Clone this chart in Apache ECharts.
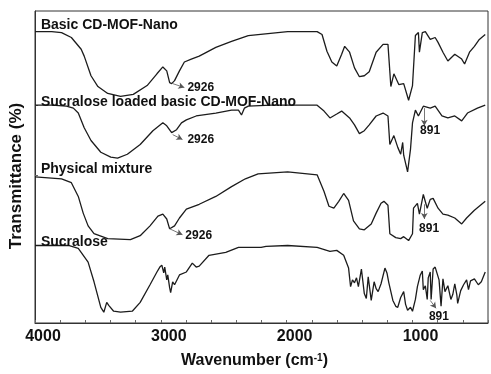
<!DOCTYPE html>
<html>
<head>
<meta charset="utf-8">
<script src="https://cdn.jsdelivr.net/npm/echarts@6/dist/echarts.min.js"></script>
<style>
html,body{margin:0;padding:0;background:#fff;}
#c{width:491px;height:374px;}
</style>
</head>
<body>
<div id="c"></div>
<script>
// Wavenumbers (cm-1) and relative transmittance (arbitrary, offset-stacked)
var wnBasic = [4000,3867,3789,3711,3633,3609,3555,3500,3422,3320,3219,3109,3031,2984,2953,2930,2914,2891,2852,2813,2758,2695,2563,2438,2305,2227,1992,1758,1719,1680,1641,1602,1563,1539,1500,1461,1422,1383,1344,1289,1234,1195,1172,1148,1109,1094,1070,1031,1000,977,953,945,922,898,859,820,797,758,719,664,609,586,547,508,469,422];
var tBasic  = [297,297,296,291,279,272,252,241,234,231,233,242,254,261,257,245,244,247,257,266,269,272,281,287,293,294,297,297,294,277,266,262,274,282,276,260,251,252,256,276,284,284,241,254,243,242,244,227,242,293,296,276,296,297,289,291,286,276,267,274,269,264,276,282,289,294];

var wnLoaded = [4000,3867,3750,3695,3656,3609,3555,3477,3398,3344,3266,3164,3063,2984,2953,2914,2875,2836,2797,2719,2563,2438,2383,2359,2336,2305,2125,1758,1703,1656,1602,1563,1500,1461,1422,1383,1344,1289,1234,1195,1180,1148,1117,1094,1078,1070,1039,1016,1000,977,953,914,859,820,766,719,664,609,563,484,422];
var tLoaded  = [222,222,221,219,214,199,186,174,169,168,172,182,196,204,201,194,197,204,207,211,214,217,217,212,219,221,222,222,216,209,213,216,209,202,193,196,202,211,214,211,182,191,179,172,184,171,154,177,204,217,211,221,219,221,211,209,211,206,214,219,222];

var wnMix = [4000,3789,3711,3656,3617,3578,3531,3422,3242,3164,3086,3023,2984,2953,2930,2891,2852,2797,2695,2563,2438,2328,2227,1992,1758,1703,1664,1625,1586,1547,1508,1469,1422,1383,1328,1289,1250,1227,1195,1180,1133,1094,1070,1031,1000,992,961,945,914,883,859,836,797,758,719,664,609,570,508,422];
var tMix  = [149,147,143,129,112,99,91,86,85,89,99,109,111,106,96,99,107,116,121,129,139,147,152,154,151,134,119,117,124,132,125,104,96,95,101,112,122,124,120,91,87,86,88,84,91,117,122,111,131,117,126,127,117,111,110,107,101,107,115,124];

var wnSucralose = [4000,3734,3656,3578,3531,3477,3453,3430,3414,3375,3320,3227,3164,3086,3031,3008,2992,2977,2969,2953,2945,2930,2922,2906,2891,2852,2797,2750,2719,2695,2617,2484,2383,2266,2203,2188,2164,1992,1758,1656,1602,1547,1508,1492,1477,1461,1445,1430,1406,1383,1367,1352,1328,1305,1289,1273,1250,1219,1203,1188,1156,1133,1117,1094,1070,1055,1039,1016,1000,977,961,938,922,914,898,883,875,859,852,836,820,805,789,773,758,742,719,695,680,664,648,641,617,594,570,555,539,508,477,453,422];
var tSucralose  = [79,79,76,62,42,16,11,21,18,12,11,12,21,39,52,57,59,51,57,44,49,36,31,42,39,49,52,61,57,58,69,72,77,77,77,75,78,79,77,73,74,69,56,37,44,41,46,37,55,30,25,47,23,42,35,32,40,56,51,41,23,17,16,26,32,19,13,16,12,24,37,49,53,34,38,24,46,52,24,55,57,59,44,17,45,32,38,24,29,40,29,20,33,39,44,34,43,45,39,42,52];

var seriesNames = ['Basic CD-MOF-Nano','Sucralose loaded basic CD-MOF-Nano','Physical mixture','Sucralose'];
var nameAnchors = [[3953,304],[3953,225],[3953,157],[3953,82]];

// peak annotations: label text, label anchor, arrow start, arrow end
var peakTexts   = ['2926','2926','2926','891','891','891'];
var peakLabelAt = [[2789,240],[2789,187],[2805,89],[860,196],[868,96],[790,6]];
var peakAlign   = ['left','left','left','center','center','center'];
var arrowFrom   = [[2906,244],[2906,192],[2930,96],[906,219],[906,121],[859,23]];
var arrowTo     = [[2813,240],[2828,187],[2828,90],[906,201],[906,106],[813,15]];

var xTicks = [4000,3000,2000,1000];
var yTickValues = [79,151,222];

function pairs(w,t){var o=[];for(var i=0;i<w.length;i++)o.push([w[i],t[i]]);return o;}

var chart = echarts.init(document.getElementById('c'), null, {renderer:'canvas'});
var FONT = 'Liberation Sans, Arial, sans-serif';
var lineColor = '#1c1c1c';

var datasets = [pairs(wnBasic,tBasic),pairs(wnLoaded,tLoaded),pairs(wnMix,tMix),pairs(wnSucralose,tSucralose)];

var series = datasets.map(function(d,i){
  return {
    type:'line', data:d, showSymbol:false, symbol:'none', animation:false, silent:true,
    lineStyle:{color:lineColor,width:1.3}, z:2
  };
});

// labels
series.push({
  type:'scatter', data:[], animation:false, silent:true,
  markPoint:{
    symbol:'circle', symbolSize:0, animation:false,
    data: seriesNames.map(function(n,i){
      return {coord:nameAnchors[i], value:n,
        label:{show:true, formatter:n, position:[0,0], align:'left', verticalAlign:'middle',
               fontFamily:FONT, fontWeight:'bold', fontSize:14, color:'#111'}};
    }).concat(peakTexts.map(function(t,i){
      return {coord:peakLabelAt[i], value:t,
        label:{show:true, formatter:t, position:[0,0], align:peakAlign[i], verticalAlign:'middle',
               fontFamily:FONT, fontWeight:'bold', fontSize:12, color:'#111'}};
    }))
  },
  markLine:{
    silent:true, animation:false, symbol:['none','arrow'], symbolSize:[5,6],
    lineStyle:{color:'#555',width:0.8,type:'solid'}, label:{show:false},
    data: arrowFrom.map(function(f,i){ return [{coord:f},{coord:arrowTo[i]}]; })
  }
});

chart.setOption({
  animation:false,
  backgroundColor:'#fff',
  grid:{left:33, right:-3, top:11, bottom:45, show:true, borderColor:'#333', borderWidth:1},
  xAxis:{
    type:'value', inverse:true, min:400, max:4000, interval:200,
    name:'Wavenumber (cm{sup|-1})', nameLocation:'middle', nameGap:30,
    nameTextStyle:{fontFamily:FONT, fontWeight:'bold', fontSize:16, color:'#111', padding:[0,14,0,0],
      rich:{sup:{fontFamily:FONT, fontWeight:'bold', fontSize:10, color:'#111', verticalAlign:'top', padding:[0,0,6,0]}}},
    axisLine:{show:true, lineStyle:{color:'#333',width:1}},
    axisTick:{show:true, inside:true, length:3, lineStyle:{color:'#666'}},
    splitLine:{show:false},
    axisLabel:{fontFamily:FONT, fontWeight:'bold', fontSize:16, color:'#111', margin:6, padding:[0,0,0,16],
      formatter:function(v){ return xTicks.indexOf(v)>=0 ? String(v) : ''; }}
  },
  yAxis:{
    type:'value', min:0, max:318,
    name:'Transmittance (%)', nameLocation:'middle', nameGap:10,
    nameTextStyle:{fontFamily:FONT, fontWeight:'bold', fontSize:17, color:'#111', padding:[0,18,0,0]},
    axisLine:{show:true, lineStyle:{color:'#333',width:1}},
    axisTick:{show:true, inside:true, length:3, customValues:yTickValues, lineStyle:{color:'#666'}},
    axisLabel:{show:false, customValues:yTickValues},
    splitLine:{show:false}
  },
  series:series
});
</script>
</body>
</html>
